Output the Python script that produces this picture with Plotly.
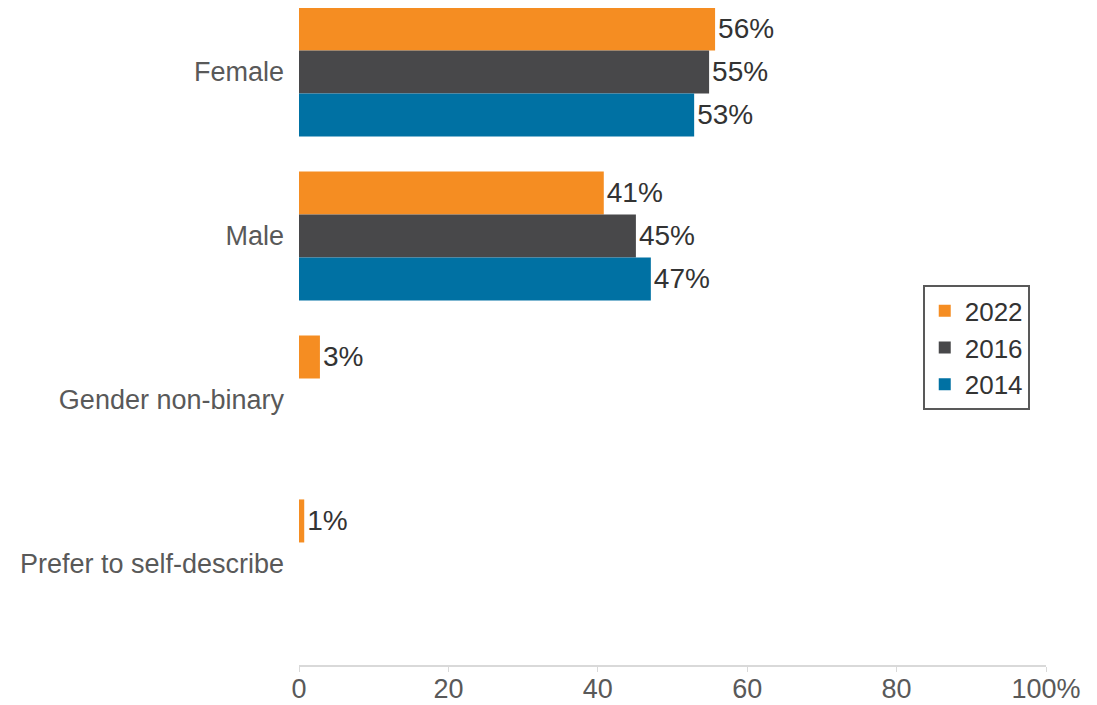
import plotly.graph_objects as go

categories = ["Female", "Male", "Gender non-binary", "Prefer to self-describe"]
years = ["2022", "2016", "2014"]
values_2022 = [55.7, 40.8, 2.8, 0.7]
values_2016 = [54.9, 45.1, None, None]
values_2014 = [52.9, 47.1, None, None]
labels_2022 = ["56%", "41%", "3%", "1%"]
labels_2016 = ["55%", "45%", "", ""]
labels_2014 = ["53%", "47%", "", ""]
colors = ["#F58D22", "#48484A", "#0071A3"]
tick_vals = [0, 20, 40, 60, 80, 100]
tick_text = ["0", "20", "40", "60", "80", "100%"]

fig = go.Figure()
for name, vals, labs, col in zip(years, [values_2022, values_2016, values_2014],
                                 [labels_2022, labels_2016, labels_2014], colors):
    fig.add_trace(go.Bar(
        y=categories, x=vals, name=name, orientation="h",
        marker=dict(color=col, line=dict(width=0)),
        text=labs, textposition="outside", cliponaxis=False,
        textfont=dict(size=28, color="#333333"),
    ))

# page body has an 8px margin, so the figure is 8px smaller and shifted
fig.update_layout(
    width=1089, height=697,
    margin=dict(l=291, r=51, t=0, b=40),
    paper_bgcolor="white", plot_bgcolor="white",
    font=dict(family="Liberation Sans, Arial, sans-serif", size=27, color="#595959"),
    barmode="group", bargap=0.213, bargroupgap=0,
    showlegend=True,
    legend=dict(x=0.835, y=0.578, xanchor="left", yanchor="top",
                bordercolor="#595959", borderwidth=2,
                font=dict(size=26, color="#333333"),
                itemwidth=30, tracegroupgap=0,
                bgcolor="white"),
    xaxis=dict(range=[0, 100], tickvals=tick_vals, ticktext=tick_text,
               showgrid=False, zeroline=False, showline=True,
               linecolor="#D9D9D9", linewidth=2,
               ticks="outside", ticklen=5, tickcolor="#D9D9D9",
               automargin=False, ticklabelstandoff=-6,
               tickfont=dict(size=27, color="#595959")),
    yaxis=dict(type="category", categoryorder="array", categoryarray=categories,
               range=[3.616, -0.390], showgrid=False, showline=False,
               ticks="", ticklabelstandoff=14, automargin=False,
               tickfont=dict(size=27, color="#595959")),
)

fig.write_html("out.html")
